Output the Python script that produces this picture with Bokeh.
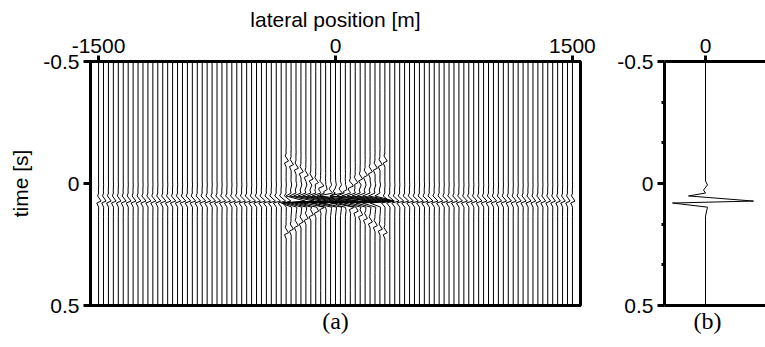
import numpy as np
from bokeh.plotting import figure
from bokeh.models import Range1d, FixedTicker, Title, LinearAxis
from bokeh.layouts import row
from bokeh.embed import file_html
from bokeh.resources import INLINE

# ---------------- data ----------------
# lateral positions of the traces in panel (a) [m]
trace_x = [-1500 + 31.25 * i for i in range(97)]

# flat reflection time [s] and peak deflection per trace [m]
flat_t = 0.072
flat_gain_left = [16, 16, 17, 17, 17, 18, 18, 18, 18, 19, 19, 19, 19, 20, 20, 20, 20,
                  21, 21, 21, 21, 22, 22, 22, 22, 23, 23, 23, 24, 24, 24, 25, 25, 25,
                  26, 26, 27, 28, 30]
flat_gain_center = [90, 115, 130, 140, 146, 150, 152, 154, 155, 155, 155, 154, 152, 150,
                    146, 140, 130, 115, 90]
flat_gain = flat_gain_left + flat_gain_center + flat_gain_left[::-1]

# two crossing dipping events (X shape) in the centre of panel (a)
dip_t0 = 0.055        # crossing time [s]
dip_slope = 0.00047   # [s/m]
dip_extent = 340      # half width [m]
dip_gain = 15         # peak deflection [m]

# single trace of panel (b): time [s] and deflection
b_time = [-0.5, -0.01, 0.006, 0.027, 0.039, 0.051, 0.072, 0.080, 0.097, 0.134, 0.5]
b_amp = [0, 0, 2, -2, 0, -17, 48, -33, 2, 0, 0]

x_ticks = [-1500, 0, 1500]
x_labels = {-1500: "-1500", 0: "0", 1500: "1500"}
y_ticks = [-0.5, 0, 0.5]
y_labels = {-0.5: "-0.5", 0: "0", 0.5: "0.5"}
b_minor = [-1 / 3, -1 / 6, 1 / 6, 1 / 3]

# ---------------- traces of (a) from the wavelet of (b) ----------------
wav_rel = np.array(b_time) - flat_t
wav_amp = np.array(b_amp, dtype=float) / max(b_amp)

xs, ys = [], []
for x0, g in zip(trace_x, flat_gain):
    events = [(flat_t, g)]
    if abs(x0) <= dip_extent:
        events.append((dip_t0 + dip_slope * x0, dip_gain))
        events.append((dip_t0 - dip_slope * x0, dip_gain))
    ts = {-0.5, 0.5}
    for tc, _ in events:
        for w in wav_rel:
            t = tc + w
            if -0.5 <= t <= 0.5:
                ts.add(round(float(t), 6))
    ts = np.array(sorted(ts))
    a = np.zeros_like(ts)
    for tc, gg in events:
        a += gg * np.interp(ts - tc, wav_rel, wav_amp, left=0, right=0)
    xs.append(list(x0 + a))
    ys.append(list(ts))

FONT = "Liberation Sans"
FS = "21px"


def style_axis(ax, tick_out):
    ax.axis_line_width = 3
    ax.axis_line_color = "black"
    ax.major_tick_line_width = 3
    ax.major_tick_out = tick_out
    ax.major_tick_in = 0
    ax.minor_tick_line_color = None
    ax.major_label_text_font = FONT
    ax.major_label_text_font_size = FS
    ax.major_label_text_color = "black"
    ax.axis_label_text_font = FONT
    ax.axis_label_text_font_size = FS
    ax.axis_label_text_font_style = "normal"
    ax.axis_label_text_color = "black"


def empty_bottom(p):
    ax = LinearAxis(ticker=FixedTicker(ticks=[]))
    ax.axis_line_width = 3
    ax.major_tick_line_color = None
    ax.minor_tick_line_color = None
    ax.major_label_text_font_size = "0px"
    p.add_layout(ax, "below")


H = 335

# ---------------- panel (a) ----------------
pa = figure(width=600, height=H, x_range=Range1d(-1551, 1551), y_range=Range1d(0.5, -0.5),
            x_axis_location="above", output_backend="svg", toolbar_location=None,
            min_border_left=90, min_border_right=20, min_border_top=61, min_border_bottom=30)
pa.grid.visible = False
pa.outline_line_color = "black"
pa.outline_line_width = 3
pa.multi_line(xs, ys, line_color="black", line_width=1)

style_axis(pa.xaxis[0], 6)
pa.xaxis[0].ticker = FixedTicker(ticks=x_ticks)
pa.xaxis[0].major_label_overrides = x_labels
pa.xaxis[0].axis_label = "lateral position [m]"
pa.xaxis[0].major_label_standoff = 3
pa.xaxis[0].axis_label_standoff = 5
style_axis(pa.yaxis[0], 7)
pa.yaxis[0].ticker = FixedTicker(ticks=y_ticks)
pa.yaxis[0].major_label_overrides = y_labels
pa.yaxis[0].axis_label = "time [s]"
pa.yaxis[0].major_label_standoff = 4
pa.yaxis[0].axis_label_standoff = 8
empty_bottom(pa)
pa.add_layout(Title(text="(a)", align="center", text_font="Liberation Serif",
                    text_font_size="24px", text_font_style="normal", text_color="black",
                    standoff=0), "below")

# ---------------- panel (b) ----------------
pb = figure(width=165, height=H, x_range=Range1d(-41, 60), y_range=Range1d(0.5, -0.5),
            x_axis_location="above", output_backend="svg", toolbar_location=None,
            min_border_left=64, min_border_right=0, min_border_top=61, min_border_bottom=30)
pb.grid.visible = False
pb.outline_line_color = None
pb.line(b_amp, b_time, line_color="black", line_width=1)

style_axis(pb.xaxis[0], 6)
pb.xaxis[0].ticker = FixedTicker(ticks=[0])
pb.xaxis[0].major_label_overrides = {0: "0"}
pb.xaxis[0].major_label_standoff = 3
style_axis(pb.yaxis[0], 7)
pb.yaxis[0].ticker = FixedTicker(ticks=y_ticks, minor_ticks=b_minor)
pb.yaxis[0].major_label_overrides = y_labels
pb.yaxis[0].major_label_standoff = 4
pb.yaxis[0].minor_tick_line_color = "black"
pb.yaxis[0].minor_tick_line_width = 3
pb.yaxis[0].minor_tick_out = 3
pb.yaxis[0].minor_tick_in = 0
empty_bottom(pb)
pb.add_layout(Title(text="(b)", align="left", offset=29, text_font="Liberation Serif",
                    text_font_size="24px", text_font_style="normal", text_color="black",
                    standoff=0), "below")

layout = row(pa, pb)
open("out.html", "w").write(file_html(layout, INLINE))
